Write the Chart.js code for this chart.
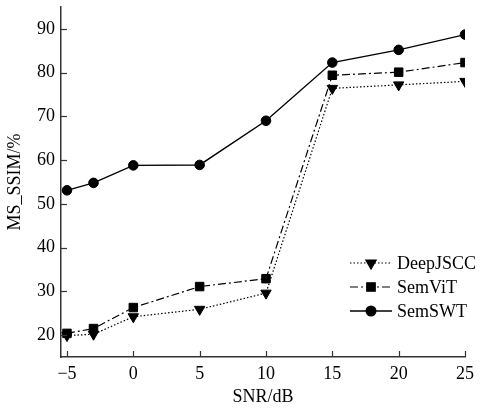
<!DOCTYPE html>
<html><head><meta charset="utf-8">
<script src="https://cdn.jsdelivr.net/npm/chart.js@4"></script>
<style>html,body{margin:0;padding:0;background:#fff}#wrap{width:480px;height:408px}</style>
</head><body><div id="wrap"><canvas id="c" width="480" height="408"></canvas></div>
<script>
const snr = [-5, -3, 0, 5, 10, 15, 20, 25];
const deepJSCC = [19.9, 20.2, 24.2, 25.9, 29.6, 76.4, 77.2, 78.0];
const semViT = [20.4, 21.5, 26.3, 31.1, 32.9, 79.4, 80.1, 82.3];
const semSWT = [53.1, 54.8, 58.8, 58.9, 69.0, 82.3, 85.2, 88.7];
const xTicks = [-5, 0, 5, 10, 15, 20, 25];
const yTicks = [20, 30, 40, 50, 60, 70, 80, 90];
const seriesNames = ['DeepJSCC', 'SemViT', 'SemSWT'];
const FONT = '"Liberation Serif", "Times New Roman", serif';

const pts = arr => snr.map((x, i) => ({x, y: arr[i]}));

const innerTicks = {
  id: 'innerTicks',
  afterDraw(chart) {
    const ctx = chart.ctx, xs = chart.scales.x, ys = chart.scales.y;
    ctx.save();
    ctx.strokeStyle = '#333'; ctx.lineWidth = 1.2;
    xs.ticks.forEach(t => { const px = Math.round(xs.getPixelForValue(t.value)) + 0.5;
      ctx.beginPath(); ctx.moveTo(px, ys.bottom); ctx.lineTo(px, ys.bottom - 6); ctx.stroke(); });
    ys.ticks.forEach(t => { const py = Math.round(ys.getPixelForValue(t.value)) + 0.5;
      ctx.beginPath(); ctx.moveTo(xs.left, py); ctx.lineTo(xs.left + 6, py); ctx.stroke(); });
    ctx.restore();
  }
};

const customLegend = {
  id: 'customLegend',
  afterDraw(chart) {
    const ctx = chart.ctx;
    const x0 = 350, x1 = 392, tx = 397, ys = [263, 287, 311];
    ctx.save();
    chart.data.datasets.forEach((ds, i) => {
      const y = ys[i];
      ctx.strokeStyle = ds.borderColor; ctx.lineWidth = ds.borderWidth;
      ctx.setLineDash(ds.borderDash || []);
      ctx.beginPath(); ctx.moveTo(x0, y); ctx.lineTo(x1, y); ctx.stroke();
      ctx.setLineDash([]);
      ctx.fillStyle = '#000'; ctx.strokeStyle = '#000';
      Chart.helpers.drawPoint(ctx, {pointStyle: ds.pointStyle, radius: ds.pointRadius, rotation: ds.pointRotation || 0, borderWidth: 1}, (x0 + x1) / 2, y);
      ctx.fillStyle = '#000';
      ctx.font = '18px ' + FONT; ctx.textAlign = 'left'; ctx.textBaseline = 'middle';
      ctx.fillText(ds.label, tx, y + 1);
    });
    ctx.restore();
  }
};

new Chart(document.getElementById('c'), {
  type: 'line',
  data: {
    datasets: [
      {label: seriesNames[0], data: pts(deepJSCC), borderColor: '#000', backgroundColor: '#000', borderWidth: 1.2,
       borderDash: [1.5, 2], pointStyle: 'triangle', pointRotation: 180, pointRadius: 6, pointBorderWidth: 1},
      {label: seriesNames[1], data: pts(semViT), borderColor: '#000', backgroundColor: '#000', borderWidth: 1.2,
       borderDash: [8, 3, 2, 3], pointStyle: 'rect', pointRadius: 6, pointBorderWidth: 1},
      {label: seriesNames[2], data: pts(semSWT), borderColor: '#000', backgroundColor: '#000', borderWidth: 1.4,
       pointStyle: 'circle', pointRadius: 4.8, pointBorderWidth: 1}
    ]
  },
  options: {
    responsive: false, animation: false,
    layout: {padding: {left: 4, top: 6, right: 15, bottom: 0}},
    plugins: {legend: {display: false}, tooltip: {enabled: false}},
    scales: {
      x: {type: 'linear', min: -5.45, max: 25,
        afterBuildTicks: s => { s.ticks = xTicks.map(v => ({value: v})); },
        afterFit: s => { s.height = 51; },
        grid: {display: false, drawTicks: false},
        border: {display: true, color: '#333', width: 1.5},
        ticks: {color: '#000', padding: 6, font: {family: FONT, size: 18},
          callback: v => (v < 0 ? '\u2212' + Math.abs(v) : String(v))},
        title: {display: true, text: 'SNR/dB', color: '#000', font: {family: FONT, size: 18}, padding: {top: 1, bottom: 0}}
      },
      y: {min: 15, max: 95,
        afterBuildTicks: s => { s.ticks = yTicks.map(v => ({value: v})); },
        afterFit: s => { s.width = 57; s.paddingTop = 0; s.paddingBottom = 0; },
        grid: {display: false, drawTicks: false},
        border: {display: true, color: '#333', width: 1.5},
        ticks: {color: '#000', padding: 6, font: {family: FONT, size: 18}},
        title: {display: true, text: 'MS_SSIM/%', color: '#000', font: {family: FONT, size: 18}, padding: {top: 0, bottom: 2}}
      }
    }
  },
  plugins: [innerTicks, customLegend]
});
</script></body></html>
